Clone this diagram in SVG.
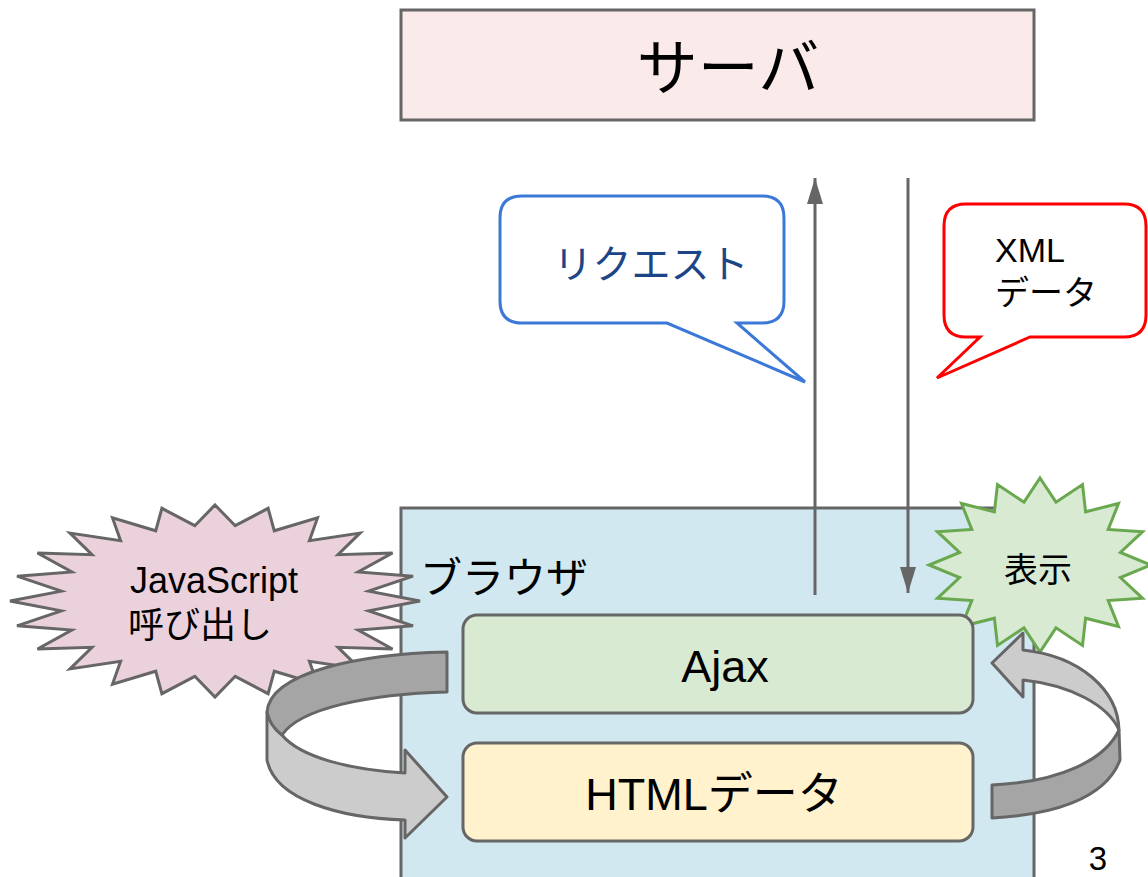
<svg xmlns="http://www.w3.org/2000/svg" width="1148" height="877" viewBox="0 0 1148 877">
<defs>
<style>
text{font-family:"Liberation Sans","Noto Sans CJK JP",sans-serif;fill:#000}
.box{stroke:#666;stroke-width:3}
.conn{stroke:#666;stroke-width:3;fill:none}
.dark{fill:#a5a5a5;stroke:#666;stroke-width:3;stroke-linejoin:round}
.light{fill:#cccccc;stroke:#666;stroke-width:3;stroke-linejoin:round}
</style>
<marker id="ah" markerUnits="userSpaceOnUse" markerWidth="28" markerHeight="18" refX="26" refY="8" orient="auto" overflow="visible">
<path d="M0,0 L26,8 L0,16 Z" fill="#666"/>
</marker>
</defs>
<rect width="1148" height="877" fill="#fff"/>

<g id="server">
<rect class="box" x="401" y="10" width="633" height="110" fill="#faeaea"/>
<text x="728" y="90" font-size="61" text-anchor="middle">サーバ</text>
</g>

<g id="request-callout">
<path d="M522,196 H762 Q784,196 784,218 V301 Q784,323 762,323 H737 L805,382 L667,323 H522 Q500,323 500,301 V218 Q500,196 522,196 Z" fill="#fff" stroke="#3c78d8" stroke-width="3"/>
<text x="651" y="278" font-size="39" text-anchor="middle" style="fill:#1c4587">リクエスト</text>
</g>

<g id="xml-callout">
<path d="M966,204 H1124 Q1146,204 1146,226 V315 Q1146,337 1124,337 H1030 L937,378 L980,337 H966 Q944,337 944,315 V226 Q944,204 966,204 Z" fill="#fff" stroke="#ff0000" stroke-width="3"/>
<text x="995" y="262" font-size="34">XML</text>
<text x="995" y="305" font-size="34">データ</text>
</g>

<g id="browser">
<rect class="box" x="401" y="508" width="633" height="380" fill="#d1e8f0"/>
<text x="420" y="593" font-size="42">ブラウザ</text>
</g>

<g id="js-call">
<polygon points="215,505 235.2,525.7 268.1,508.3 274.3,530.8 317.5,517.9 309.4,540.7 360,533.1 338,554.7 392.5,553 358.2,571.9 413,576.2 368.7,591.1 420,601 368.7,610.9 413,625.8 358.2,630.1 392.5,649 338,647.3 360,668.9 309.4,661.3 317.5,684.1 274.3,671.2 268.1,693.7 235.2,676.3 215,697 194.8,676.3 161.9,693.7 155.7,671.2 112.5,684.1 120.6,661.3 70,668.9 92,647.3 37.5,649 71.8,630.1 17,625.8 61.3,610.9 10,601 61.3,591.1 17,576.2 71.8,571.9 37.5,553 92,554.7 70,533.1 120.6,540.7 112.5,517.9 155.7,530.8 161.9,508.3 194.8,525.7" fill="#ead1dc" stroke="#666" stroke-width="3" stroke-linejoin="miter"/>
<text x="130" y="593" font-size="36">JavaScript</text>
<text x="128" y="638" font-size="36">呼び出し</text>
</g>

<g id="display">
<polygon points="1040,478 1056,502.2 1082.5,484.6 1085.6,511.8 1118.5,503.5 1108.2,529.4 1142.6,531.7 1120.4,552.5 1151,565 1120.4,577.5 1142.6,598.3 1108.2,600.6 1118.5,626.5 1085.6,618.2 1082.5,645.4 1056,627.8 1040,652 1024,627.8 997.5,645.4 994.4,618.2 961.5,626.5 971.8,600.6 937.4,598.3 959.6,577.5 929,565 959.6,552.5 937.4,531.7 971.8,529.4 961.5,503.5 994.4,511.8 997.5,484.6 1024,502.2" fill="#d9ead3" stroke="#6aa84f" stroke-width="3"/>
<text x="1038" y="582" font-size="34" text-anchor="middle">表示</text>
</g>

<g id="connectors">
<line class="conn" x1="815" y1="595" x2="815" y2="178" marker-end="url(#ah)"/>
<line class="conn" x1="908" y1="178" x2="908" y2="593" marker-end="url(#ah)"/>
<path class="light" d="M267,712 Q270,726 282,735 C300,757 350,770 405,773 L405,750 L447,797 L405,838 L405,820 C340,818 275,800 267,760 Z"/>
<path class="dark" d="M447,652 L447,692 C370,694 300,708 282,735 Q270,726 267,712 C270,672 360,654 447,652 Z"/>
<path class="light" d="M1023,650 L1023,633 L992,663 L1023,697 L1023,680 C1070,685 1108,705 1119,730 C1118,690 1080,656 1023,650 Z"/>
<path class="dark" d="M992,785 C1060,782 1105,760 1119,730 L1120,760 C1105,800 1050,815 992,818 Z"/>
</g>

<g id="ajax">
<rect class="box" x="463" y="615" width="510" height="98" rx="14" fill="#d9ead3"/>
<text x="725" y="682" font-size="45" text-anchor="middle">Ajax</text>
</g>

<g id="html-data">
<rect class="box" x="463" y="743" width="510" height="98" rx="14" fill="#fff2cc"/>
<text x="714" y="810" font-size="45" text-anchor="middle">HTMLデータ</text>
</g>

<g id="page-number">
<text x="1098" y="870" font-size="33" text-anchor="middle">3</text>
</g>
</svg>
